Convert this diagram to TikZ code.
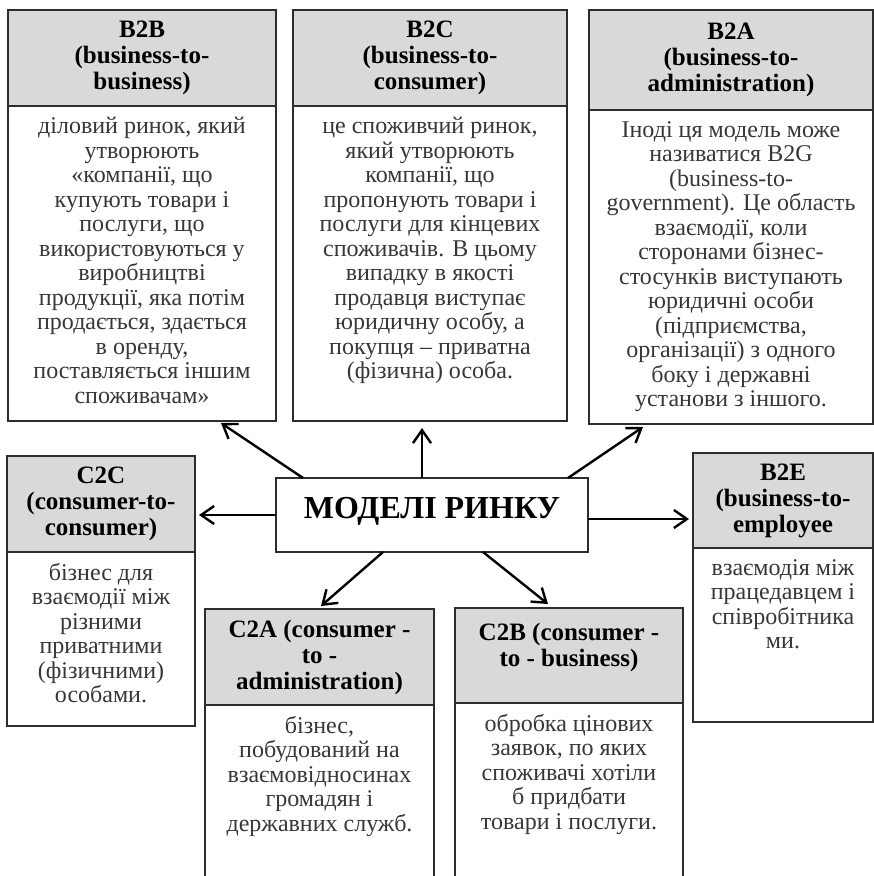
\documentclass[tikz,border=0pt]{standalone}
\usepackage{fontspec}
\setmainfont{Liberation Serif}
\usetikzlibrary{positioning,arrows.meta,calc}
\definecolor{headgray}{RGB}{217,217,217}
\definecolor{framegray}{RGB}{45,45,45}
\definecolor{textgray}{RGB}{55,55,55}
\tikzset{
    head/.style={draw=framegray, line width=1.5pt, fill=headgray, anchor=north west,
        inner sep=0pt, outer sep=0pt, align=center, font=\bfseries\fontsize{25}{26}\selectfont},
    bodybox/.style={draw=framegray, line width=1.5pt, fill=white, anchor=north,
        inner sep=0pt, outer sep=0pt},
    bodytext/.style={anchor=north, inner sep=0pt, align=center, text=textgray,
        font=\fontsize{24}{24.5}\selectfont},
    hubbox/.style={draw=framegray, line width=1.5pt, fill=white, inner sep=0pt, outer sep=0pt,
        minimum width=312pt, minimum height=74pt, text height=21pt, text depth=15pt,
        font=\bfseries\fontsize{32}{36}\selectfont},
    link/.style={line width=2.4pt, -{Straight Barb[length=13pt,width=18pt]}}
}
\begin{document}
\begin{tikzpicture}[x=1pt, y=-1pt]
    \useasboundingbox (0,0) rectangle (874,876);
    \clip (0,0) rectangle (874,876);

    % upper row
    \node[head, minimum width=268pt, minimum height=96pt] (b2bhead) at (8,10)
        {B2B\\(business-to-\\business)};
    \node[bodybox, minimum width=268pt, minimum height=315pt] (b2b) at (b2bhead.south) {};
    \node[bodytext] (b2btext) at ([yshift=-11pt]b2b.north)
        {діловий ринок, який\\утворюють\\«компанії, що\\купують товари і\\послуги, що\\використовуються у\\виробництві\\продукції, яка потім\\продається, здається\\в оренду,\\поставляється іншим\\споживачам»};

    \node[head, minimum width=274pt, minimum height=96pt] (b2chead) at (293,10)
        {B2C\\(business-to-\\consumer)};
    \node[bodybox, minimum width=274pt, minimum height=315pt] (b2c) at (b2chead.south) {};
    \node[bodytext] (b2ctext) at ([yshift=-11pt]b2c.north)
        {це споживчий ринок,\\який утворюють\\компанії, що\\пропонують товари і\\послуги для кінцевих\\споживачів. В цьому\\випадку в якості\\продавця виступає\\юридичну особу, а\\покупця – приватна\\(фізична) особа.};

    \node[head, minimum width=284pt, minimum height=100pt] (b2ahead) at (589,10)
        {B2A\\(business-to-\\administration)};
    \node[bodybox, minimum width=284pt, minimum height=314pt] (b2a) at (b2ahead.south) {};
    \node[bodytext] (b2atext) at ([yshift=-11pt]b2a.north)
        {Іноді ця модель може\\називатися B2G\\(business-to-\\government). Це область\\взаємодії, коли\\сторонами бізнес-\\стосунків виступають\\юридичні особи\\(підприємства,\\організації) з одного\\боку і державні\\установи з іншого.};

    % middle row
    \node[hubbox] (hub) at (432,515) {МОДЕЛІ РИНКУ};

    \node[head, minimum width=188pt, minimum height=96pt] (c2chead) at (7,456)
        {C2C\\(consumer-to-\\consumer)};
    \node[bodybox, minimum width=188pt, minimum height=174pt] (c2c) at (c2chead.south) {};
    \node[bodytext] (c2ctext) at ([yshift=-11pt]c2c.north)
        {бізнес для\\взаємодії між\\різними\\приватними\\(фізичними)\\особами.};

    \node[head, minimum width=180pt, minimum height=95pt] (b2ehead) at (693,453)
        {B2E\\(business-to-\\employee};
    \node[bodybox, minimum width=180pt, minimum height=174pt] (b2e) at (b2ehead.south) {};
    \node[bodytext] (b2etext) at ([yshift=-11pt]b2e.north)
        {взаємодія між\\працедавцем і\\співробітника\\ми.};

    % lower row
    \node[head, minimum width=229pt, minimum height=96pt] (c2ahead) at (205,609)
        {C2A (consumer -\\to -\\administration)};
    \node[bodybox, minimum width=229pt, minimum height=300pt] (c2a) at (c2ahead.south) {};
    \node[bodytext] (c2atext) at ([yshift=-11pt]c2a.north)
        {бізнес,\\побудований на\\взаємовідносинах\\громадян і\\державних служб.};

    \node[head, minimum width=228pt, minimum height=95pt, text depth=21pt] (c2bhead) at (455,608)
        {C2B (consumer -\\to - business)};
    \node[bodybox, minimum width=228pt, minimum height=300pt] (c2b) at (c2bhead.south) {};
    \node[bodytext] (c2btext) at ([yshift=-11pt]c2b.north)
        {обробка цінових\\заявок, по яких\\споживачі хотіли\\б придбати\\товари і послуги.};

    % arrows from the hub
    \draw[link] ($(hub.north west)+(27,0)$) -- ($(b2b.south east)+(-55,2)$);
    \draw[link] ($(hub.north)+(-10,0)$) -- ($(b2c.south)+(-8,7)$);
    \draw[link] ($(hub.north east)+(-20,0)$) -- ($(b2a.south west)+(54,3)$);
    \draw[link] (hub.west) -- ($(hub.west -| c2chead.east)+(4,0)$);
    \draw[link] ($(hub.east)+(0,4)$) -- ($(hub.east -| b2ehead.west)+(-4,4)$);
    \draw[link] ($(hub.south west)+(107,0)$) -- ($(c2ahead.north west)+(116,-3)$);
    \draw[link] ($(hub.south)+(51,0)$) -- ($(c2bhead.north west)+(93,-4)$);
\end{tikzpicture}
\end{document}
